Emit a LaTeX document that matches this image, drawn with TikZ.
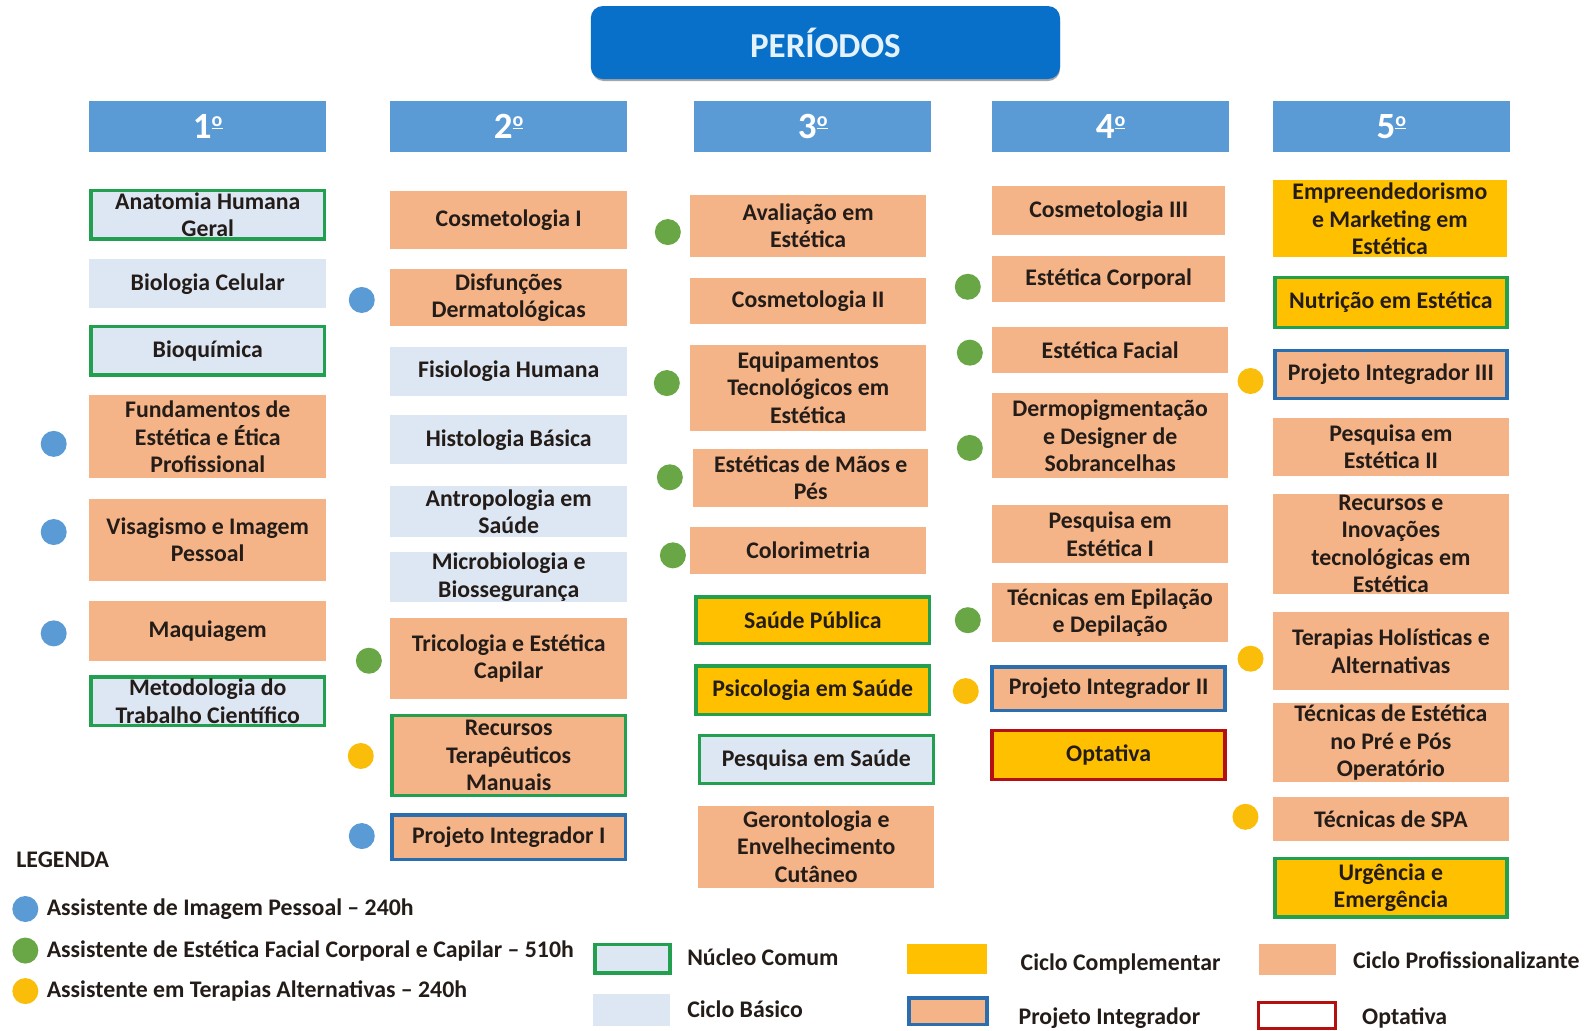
\documentclass[tikz,border=0pt]{standalone}
\usepackage{fontspec}
\setmainfont{Carlito}
\definecolor{titleb}{RGB}{8,112,200}
\definecolor{titletxt}{RGB}{228,242,252}
\definecolor{headb}{RGB}{91,155,213}
\definecolor{orangef}{RGB}{245,180,135}
\definecolor{lightf}{RGB}{221,231,243}
\definecolor{yellowf}{RGB}{255,192,0}
\definecolor{greenb}{RGB}{34,160,80}
\definecolor{blueb}{RGB}{42,110,176}
\definecolor{redb}{RGB}{180,16,16}
\definecolor{dotb}{RGB}{91,155,213}
\definecolor{dotg}{RGB}{104,166,70}
\definecolor{doty}{RGB}{250,190,10}
\definecolor{txtc}{RGB}{35,28,24}
\newcommand\subj[7]{%
  \path[#6] (#2,#3) rectangle (#4,#5);
  \node[txt] (#1) at ({(#2+#4)/2},{(#3+#5)/2}) {#7};}
\newcommand\ordo{\raisebox{0.32em}{\fontsize{20}{20}\selectfont\underline{o}}}
\begin{document}
\begin{tikzpicture}[x=1.0134pt,y=-1.0134pt,
  txt/.style={font=\fontsize{23.8}{27.5}\selectfont\bfseries, align=center, text=txtc, inner sep=0pt},
  cp/.style={fill=orangef},
  cb/.style={fill=lightf},
  cc/.style={fill=yellowf},
  gb/.style={draw=greenb, line width=3.5pt},
  bb/.style={draw=blueb, line width=3.5pt},
  rb/.style={draw=redb, line width=3.5pt},
  nc/.style={fill=lightf, gb},
  dot/.style={circle, minimum size=26pt, inner sep=0pt},
  legtxt/.style={font=\fontsize{23.8}{27}\selectfont\bfseries, text=txtc, inner sep=0pt, anchor=west},
  headtxt/.style={font=\fontsize{37}{40}\selectfont\bfseries, text=white, inner sep=0pt},
  titletext/.style={font=\fontsize{35}{40}\selectfont\bfseries, text=titletxt, inner sep=0pt}]
\useasboundingbox (0,0) rectangle (1568,1017);
\fill[white] (0,0) rectangle (1568,1017);
% title
\fill[black!35, rounded corners=12pt] (584,9) rectangle (1046,80);
\fill[titleb, rounded corners=12pt] (583,6) rectangle (1046,78);
\node[titletext] (title) at (814.5,42) {PERÍODOS};
% headers
\fill[headb] (88,100) rectangle (322,150);
\node[headtxt] (h1) at (205,125) {1\ordo};
\fill[headb] (385,100) rectangle (619,150);
\node[headtxt] (h2) at (502,125) {2\ordo};
\fill[headb] (685,100) rectangle (919,150);
\node[headtxt] (h3) at (802,125) {3\ordo};
\fill[headb] (979,100) rectangle (1213,150);
\node[headtxt] (h4) at (1096,125) {4\ordo};
\fill[headb] (1256,100) rectangle (1490,150);
\node[headtxt] (h5) at (1373,125) {5\ordo};
% column 1
\subj{a1}{90}{188}{320}{236}{nc}{Anatomia Humana\\Geral}
\subj{a2}{88}{256}{322}{304}{cb}{Biologia Celular}
\subj{a3}{90}{322}{320}{370}{nc}{Bioquímica}
\subj{a4}{88}{390}{322}{472}{cp}{Fundamentos de\\Estética e Ética\\Profissional}
\subj{a5}{88}{492}{322}{573}{cp}{Visagismo e Imagem\\Pessoal}
\subj{a6}{88}{593}{322}{652}{cp}{Maquiagem}
\subj{a7}{90}{668}{320}{716}{nc}{Metodologia do\\Trabalho Científico}
% column 2
\subj{b1}{385}{188}{619}{246}{cp}{Cosmetologia I}
\subj{b2}{385}{265}{619}{322}{cp}{Disfunções\\Dermatológicas}
\subj{b3}{385}{342}{619}{391}{cb}{Fisiologia Humana}
\subj{b4}{385}{410}{619}{458}{cb}{Histologia Básica}
\subj{b5}{385}{480}{619}{530}{cb}{Antropologia em\\Saúde}
\subj{b6}{385}{545}{619}{594}{cb}{Microbiologia e\\Biossegurança}
\subj{b7}{385}{610}{619}{690}{cp}{Tricologia e Estética\\Capilar}
\subj{b8}{387}{706}{617}{785}{cp,gb}{Recursos\\Terapêuticos\\Manuais}
\subj{b9}{387}{804}{617}{848}{cp,bb}{Projeto Integrador I}
% column 3
\subj{c1}{681}{192}{914}{254}{cp}{Avaliação em\\Estética}
\subj{c2}{681}{274}{914}{320}{cp}{Cosmetologia II}
\subj{c3}{681}{340}{914}{425}{cp}{Equipamentos\\Tecnológicos em\\Estética}
\subj{c4}{684}{443}{916}{500}{cp}{Estéticas de Mãos e\\Pés}
\subj{c5}{681}{520}{914}{566}{cp}{Colorimetria}
\subj{c6}{687}{589}{917}{635}{cc,gb}{Saúde Pública}
\subj{c7}{687}{657}{917}{705}{cc,gb}{Psicologia em Saúde}
\subj{c8}{690}{726}{921}{773}{nc}{Pesquisa em Saúde}
\subj{c9}{689}{795}{922}{876}{cp}{Gerontologia e\\Envelhecimento\\Cutâneo}
% column 4
\subj{d1}{979}{184}{1209}{232}{cp}{Cosmetologia III}
\subj{d2}{979}{253}{1209}{298}{cp}{Estética Corporal}
\subj{d3}{979}{323}{1212}{368}{cp}{Estética Facial}
\subj{d4}{979}{388}{1212}{472}{cp}{Dermopigmentação\\e Designer de\\Sobrancelhas}
\subj{d5}{979}{498}{1212}{556}{cp}{Pesquisa em\\Estética I}
\subj{d6}{979}{575}{1212}{634}{cp}{Técnicas em Epilação\\e Depilação}
\subj{d7}{979}{658}{1209}{701}{cp,bb}{Projeto Integrador II}
\subj{d8}{979}{721}{1209}{769}{cc,rb}{Optativa}
% column 5
\subj{e1}{1256}{178}{1487}{254}{cc}{Empreendedorismo\\e Marketing em\\Estética}
\subj{e2}{1258}{274}{1487}{323}{cc,gb}{Nutrição em Estética}
\subj{e3}{1258}{346}{1487}{393}{cp,bb}{Projeto Integrador III}
\subj{e4}{1256}{412}{1489}{470}{cp}{Pesquisa em\\Estética II}
\subj{e5}{1256}{487}{1489}{586}{cp}{Recursos e\\Inovações\\tecnológicas em\\Estética}
\subj{e6}{1256}{604}{1489}{681}{cp}{Terapias Holísticas e\\Alternativas}
\subj{e7}{1256}{694}{1489}{772}{cp}{Técnicas de Estética\\no Pré e Pós\\Operatório}
\subj{e8}{1256}{786}{1489}{830}{cp}{Técnicas de SPA}
\subj{e9}{1258}{847}{1487}{905}{cc,gb}{Urgência e\\Emergência}
% dots
\node[dot, fill=dotb] (pb1) at (357,296) {};
\node[dot, fill=dotb] (pb2) at (53,438) {};
\node[dot, fill=dotb] (pb3) at (53,525) {};
\node[dot, fill=dotb] (pb4) at (53,625) {};
\node[dot, fill=dotb] (pb5) at (357,825) {};
\node[dot, fill=dotg] (pg1) at (659,229) {};
\node[dot, fill=dotg] (pg2) at (364,652) {};
\node[dot, fill=dotg] (pg3) at (658,378) {};
\node[dot, fill=dotg] (pg4) at (661,471) {};
\node[dot, fill=dotg] (pg5) at (664,548) {};
\node[dot, fill=dotg] (pg6) at (955,283) {};
\node[dot, fill=dotg] (pg7) at (957,348) {};
\node[dot, fill=dotg] (pg8) at (957,442) {};
\node[dot, fill=dotg] (pg9) at (955,612) {};
\node[dot, fill=doty] (py1) at (356,746) {};
\node[dot, fill=doty] (py2) at (953,682) {};
\node[dot, fill=doty] (py3) at (1234,376) {};
\node[dot, fill=doty] (py4) at (1234,650) {};
\node[dot, fill=doty] (py5) at (1229,806) {};
% legend
\node[legtxt] (leg) at (16,848) {LEGENDA};
\node[dot, fill=dotb] (lb) at (25,897) {};
\node[legtxt] (lbt) at (46,897) {Assistente de Imagem Pessoal – 240h};
\node[dot, fill=dotg] (lg) at (25,938) {};
\node[legtxt] (lgt) at (46,938) {Assistente de Estética Facial Corporal e Capilar – 510h};
\node[dot, fill=doty] (ly) at (25,978) {};
\node[legtxt] (lyt) at (46,978) {Assistente em Terapias Alternativas – 240h};
\path[nc] (587,932) rectangle (661,960);
\node[legtxt] (s1) at (678,945) {Núcleo Comum};
\path[cb] (585,981) rectangle (661,1012);
\node[legtxt] (s2) at (678,996) {Ciclo Básico};
\path[cc] (895,932) rectangle (974,961);
\node[legtxt] (s3) at (1007,951) {Ciclo Complementar};
\path[cp,bb] (897,985) rectangle (974,1011);
\node[legtxt] (s4) at (1005,1005) {Projeto Integrador};
\path[cp] (1242,932) rectangle (1318,962);
\node[legtxt] (s5) at (1335,948) {Ciclo Profissionalizante};
\path[fill=white,rb] (1242,989) rectangle (1318,1015);
\node[legtxt] (s6) at (1344,1005) {Optativa};
\end{tikzpicture}
\end{document}
